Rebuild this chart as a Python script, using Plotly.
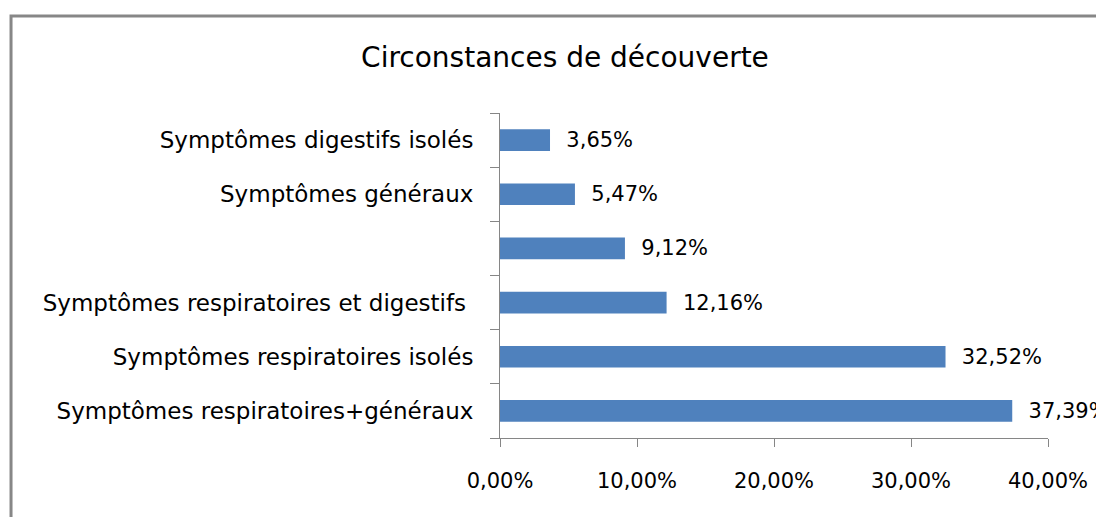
import plotly.graph_objects as go

# categories listed bottom to top
categories = [
    "Symptômes respiratoires+généraux",
    "Symptômes respiratoires isolés",
    "Symptômes respiratoires et digestifs ",
    " ",
    "Symptômes généraux",
    "Symptômes digestifs isolés",
]
values = [0.3739, 0.3252, 0.1216, 0.0912, 0.0547, 0.0365]
x_ticks = [0, 0.1, 0.2, 0.3, 0.4]

fig = go.Figure()

fig.add_trace(
    go.Bar(
        x=values,
        y=categories,
        orientation="h",
        width=0.4,
        marker=dict(color="#4F81BD", line=dict(width=0)),
        texttemplate="  %{x:.2%}",
        textposition="outside",
        constraintext="none",
        textfont=dict(size=21, color="#000000"),
        cliponaxis=False,
    )
)

# chart frame
fig.add_shape(
    type="rect", xref="paper", yref="paper",
    x0=-0.8923, x1=1.3, y0=-0.6, y1=1.2985,
    line=dict(color="#878787", width=3),
)

fig.update_xaxes(
    range=[0, 0.4],
    tickvals=x_ticks,
    tickformat=".2%",
    showgrid=False,
    zeroline=False,
    showline=True,
    linecolor="#868686",
    linewidth=1,
    ticks="outside",
    ticklen=8,
    tickcolor="#868686",
    ticklabelstandoff=16,
    tickfont=dict(size=21, color="#000000"),
)

fig.update_yaxes(
    categoryorder="array",
    categoryarray=categories,
    showgrid=False,
    showline=True,
    linecolor="#868686",
    linewidth=1,
    ticks="outside",
    tickson="boundaries",
    ticklen=9,
    tickcolor="#868686",
    ticklabelstandoff=21,
    tickfont=dict(size=23, color="#000000"),
)

fig.update_layout(
    width=1104,
    height=517,
    margin=dict(l=492, r=64, t=105, b=87),
    separators=", ",
    font=dict(family="DejaVu Sans", color="#000000"),
    title=dict(
        text="Circonstances de découverte",
        x=0.5045, xanchor="center",
        y=0.905, yanchor="middle",
        yref="container",
        font=dict(size=28, color="#000000"),
    ),
    plot_bgcolor="white",
    paper_bgcolor="white",
    showlegend=False,
)

fig.write_html("out.html")
